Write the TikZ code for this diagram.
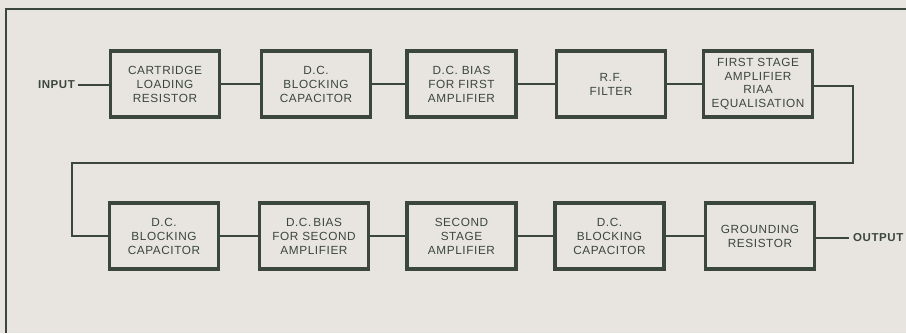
\documentclass[tikz,border=0pt]{standalone}
\usepackage{fontspec}
\setmainfont{Liberation Sans}
\newfontfamily\labfont[LetterSpace=5]{Liberation Sans}
\definecolor{ink}{HTML}{3B463D}
\definecolor{paper}{HTML}{E8E5E0}
\begin{document}
\begin{tikzpicture}[x=1pt,y=-1pt,
  blk/.style={draw=ink, line width=3.6pt, minimum width=109pt, minimum height=66pt,
    inner sep=0pt, align=center, text=ink, font=\labfont\fontsize{11.8}{14}\selectfont},
  wire/.style={draw=ink, line width=2.8pt},
  io/.style={text=ink, inner sep=0pt, font=\labfont\bfseries\fontsize{11.5}{13}\selectfont},
  frame/.style={draw=ink, line width=1.3pt}]
\fill[paper] (0,0) rectangle (906,333);
\useasboundingbox (0,0) rectangle (906,333);
\draw[frame] (906,9) -- (6,9) -- (6,333);
% row 1
\node[blk] (b1) at (165,84) {CARTRIDGE\\LOADING\\RESISTOR};
\node[blk] (b2) at (316,84) {D.C.\\BLOCKING\\CAPACITOR};
\node[blk] (b3) at (461.5,84) {D.C. BIAS\\FOR FIRST\\AMPLIFIER};
\node[blk] (b4) at (611,84) {R.F.\\FILTER};
\node[blk, font=\labfont\fontsize{11.8}{13.6}\selectfont] (b5) at (758,84) {FIRST STAGE\\AMPLIFIER\\RIAA\\EQUALISATION};
% row 2
\node[blk] (c1) at (164,236) {D.C.\\BLOCKING\\CAPACITOR};
\node[blk] (c2) at (314,236) {D.C.\,BIAS\\FOR SECOND\\AMPLIFIER};
\node[blk] (c3) at (461.5,236) {SECOND\\STAGE\\AMPLIFIER};
\node[blk] (c4) at (609.5,236) {D.C.\\BLOCKING\\CAPACITOR};
\node[blk] (c5) at (760,236) {GROUNDING\\RESISTOR};
% io
\node[io, anchor=east] (in) at (75,85) {INPUT};
\node[io, anchor=west] (out) at (853,238) {OUTPUT};
\coordinate (inend) at (78,85);
\coordinate (outend) at (849,238);
\coordinate (r1) at (853,86);
\coordinate (r2) at (853,163);
\coordinate (r3) at (72,163);
\coordinate (r4) at (72,236);
% connectors
\draw[wire] (inend) -- (inend -| b1.west);
\draw[wire] (b1) -- (b2);
\draw[wire] (b2) -- (b3);
\draw[wire] (b3) -- (b4);
\draw[wire] (b4) -- (b5);
\draw[wire, line join=miter] (b5.east |- r1) -- (r1) -- (r2) -- (r3) -- (r4) -- (c1.west);
\draw[wire] (c1) -- (c2);
\draw[wire] (c2) -- (c3);
\draw[wire] (c3) -- (c4);
\draw[wire] (c4) -- (c5);
\draw[wire] (c5.east |- outend) -- (outend);
\end{tikzpicture}
\end{document}
